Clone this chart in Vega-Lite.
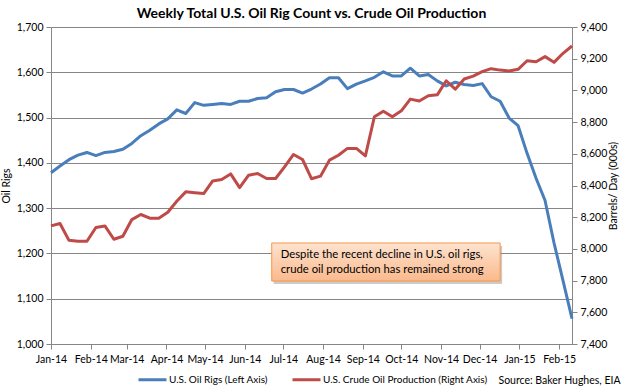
{
  "$schema": "https://vega.github.io/schema/vega-lite/v6.json",
  "width": 521,
  "height": 317,
  "autosize": {"type": "none"},
  "padding": {"left": 51, "top": 27, "right": 56, "bottom": 43},
  "background": "white",
  "title": {"text": "Weekly Total U.S. Oil Rig Count vs. Crude Oil Production", "font": "Lato", "fontSize": 14, "fontWeight": "bold", "color": "#000000", "anchor": "middle", "offset": 1},
  "config": {
    "font": "Lato",
    "view": {"stroke": null},
    "axis": {"labelFont": "Lato", "labelFontSize": 10.5, "labelColor": "#000000", "titleFont": "Lato", "titleFontSize": 10.5, "titleFontWeight": "normal", "titleColor": "#000000", "domainColor": "#868686", "tickColor": "#868686", "tickSize": 5, "labelPadding": 3},
    "axisX": {"labelExpr": "utcFormat(datum.value, '%b-%y')", "labelFlush": false, "labelOverlap": false, "grid": false, "labelPadding": 5}
  },
  "data": {"values": [
    {"date": "2014-01-03", "rigs": 1378, "production": 8145},
    {"date": "2014-01-10", "rigs": 1393, "production": 8160},
    {"date": "2014-01-17", "rigs": 1407, "production": 8054},
    {"date": "2014-01-24", "rigs": 1417, "production": 8048},
    {"date": "2014-01-31", "rigs": 1423, "production": 8048},
    {"date": "2014-02-07", "rigs": 1416, "production": 8135},
    {"date": "2014-02-14", "rigs": 1423, "production": 8145},
    {"date": "2014-02-21", "rigs": 1425, "production": 8061},
    {"date": "2014-02-28", "rigs": 1430, "production": 8080},
    {"date": "2014-03-07", "rigs": 1443, "production": 8185},
    {"date": "2014-03-14", "rigs": 1460, "production": 8217},
    {"date": "2014-03-21", "rigs": 1472, "production": 8194},
    {"date": "2014-03-28", "rigs": 1486, "production": 8194},
    {"date": "2014-04-04", "rigs": 1497, "production": 8231},
    {"date": "2014-04-11", "rigs": 1517, "production": 8301},
    {"date": "2014-04-18", "rigs": 1509, "production": 8360},
    {"date": "2014-04-25", "rigs": 1533, "production": 8355},
    {"date": "2014-05-02", "rigs": 1527, "production": 8349},
    {"date": "2014-05-09", "rigs": 1529, "production": 8429},
    {"date": "2014-05-16", "rigs": 1531, "production": 8438},
    {"date": "2014-05-23", "rigs": 1529, "production": 8473},
    {"date": "2014-05-30", "rigs": 1536, "production": 8387},
    {"date": "2014-06-06", "rigs": 1536, "production": 8465},
    {"date": "2014-06-13", "rigs": 1542, "production": 8476},
    {"date": "2014-06-20", "rigs": 1544, "production": 8444},
    {"date": "2014-06-27", "rigs": 1557, "production": 8444},
    {"date": "2014-07-04", "rigs": 1562, "production": 8518},
    {"date": "2014-07-11", "rigs": 1562, "production": 8596},
    {"date": "2014-07-18", "rigs": 1554, "production": 8564},
    {"date": "2014-07-25", "rigs": 1563, "production": 8443},
    {"date": "2014-08-01", "rigs": 1574, "production": 8459},
    {"date": "2014-08-08", "rigs": 1588, "production": 8560},
    {"date": "2014-08-15", "rigs": 1588, "production": 8591},
    {"date": "2014-08-22", "rigs": 1564, "production": 8634},
    {"date": "2014-08-29", "rigs": 1574, "production": 8634},
    {"date": "2014-09-05", "rigs": 1581, "production": 8587},
    {"date": "2014-09-12", "rigs": 1589, "production": 8834},
    {"date": "2014-09-19", "rigs": 1601, "production": 8869},
    {"date": "2014-09-26", "rigs": 1592, "production": 8834},
    {"date": "2014-10-03", "rigs": 1592, "production": 8871},
    {"date": "2014-10-10", "rigs": 1609, "production": 8945},
    {"date": "2014-10-17", "rigs": 1592, "production": 8933},
    {"date": "2014-10-24", "rigs": 1595, "production": 8966},
    {"date": "2014-10-31", "rigs": 1581, "production": 8972},
    {"date": "2014-11-07", "rigs": 1570, "production": 9061},
    {"date": "2014-11-14", "rigs": 1578, "production": 9008},
    {"date": "2014-11-21", "rigs": 1573, "production": 9072},
    {"date": "2014-11-28", "rigs": 1571, "production": 9090},
    {"date": "2014-12-05", "rigs": 1575, "production": 9118},
    {"date": "2014-12-12", "rigs": 1546, "production": 9137},
    {"date": "2014-12-19", "rigs": 1536, "production": 9128},
    {"date": "2014-12-26", "rigs": 1499, "production": 9122},
    {"date": "2015-01-02", "rigs": 1482, "production": 9133},
    {"date": "2015-01-09", "rigs": 1421, "production": 9187},
    {"date": "2015-01-16", "rigs": 1366, "production": 9181},
    {"date": "2015-01-23", "rigs": 1317, "production": 9213},
    {"date": "2015-01-30", "rigs": 1223, "production": 9177},
    {"date": "2015-02-06", "rigs": 1140, "production": 9234},
    {"date": "2015-02-13", "rigs": 1056, "production": 9280}
  ]},
  "layer": [
    {
      "mark": {"type": "line", "strokeWidth": 3, "strokeJoin": "round"},
      "encoding": {
        "x": {"field": "date", "type": "temporal",
          "scale": {"type": "utc", "domain": [{"year": 2014, "month": 1, "date": 3, "utc": true}, {"year": 2015, "month": 2, "date": 13, "utc": true}]},
          "axis": {
            "values": [{"year": 2014, "month": 1, "date": 3, "utc": true}, {"year": 2014, "month": 2, "date": 3, "utc": true}, {"year": 2014, "month": 3, "date": 3, "utc": true}, {"year": 2014, "month": 4, "date": 3, "utc": true}, {"year": 2014, "month": 5, "date": 3, "utc": true}, {"year": 2014, "month": 6, "date": 3, "utc": true}, {"year": 2014, "month": 7, "date": 3, "utc": true}, {"year": 2014, "month": 8, "date": 3, "utc": true}, {"year": 2014, "month": 9, "date": 3, "utc": true}, {"year": 2014, "month": 10, "date": 3, "utc": true}, {"year": 2014, "month": 11, "date": 3, "utc": true}, {"year": 2014, "month": 12, "date": 3, "utc": true}, {"year": 2015, "month": 1, "date": 3, "utc": true}, {"year": 2015, "month": 2, "date": 3, "utc": true}],
            "title": "Source: Baker Hughes, EIA", "titleX": 569, "titleY": 36, "titleAlign": "right", "titleBaseline": "middle"}},
        "y": {"field": "rigs", "type": "quantitative",
          "scale": {"domain": [1000, 1700], "nice": false, "zero": false},
          "axis": {"orient": "left", "title": "Oil Rigs", "format": ",.0f", "values": [1000, 1100, 1200, 1300, 1400, 1500, 1600, 1700], "grid": true, "gridColor": "#868686", "gridWidth": 1, "titlePadding": 5}},
        "color": {"datum": "U.S. Oil Rigs (Left Axis)", "type": "nominal",
          "scale": {"domain": ["U.S. Oil Rigs (Left Axis)", "U.S. Crude Oil Production (Right Axis)"], "range": ["#4a7ebb", "#be4b48"]},
          "legend": {"orient": "none", "legendX": 86, "legendY": 337, "direction": "horizontal", "title": null, "symbolType": "stroke", "symbolSize": 784, "symbolStrokeWidth": 3, "labelFont": "Lato", "labelFontSize": 10, "labelColor": "#000000", "labelOffset": 1, "labelLimit": 400, "columnPadding": 18}}
      }
    },
    {
      "mark": {"type": "line", "strokeWidth": 3, "strokeJoin": "round"},
      "encoding": {
        "x": {"field": "date", "type": "temporal"},
        "y": {"field": "production", "type": "quantitative",
          "scale": {"domain": [7400, 9400], "nice": false, "zero": false},
          "axis": {"orient": "right", "title": "Barrels/ Day (000s)", "titleAngle": 270, "format": ",.0f", "values": [7400, 7600, 7800, 8000, 8200, 8400, 8600, 8800, 9000, 9200, 9400], "grid": false, "titlePadding": 12}},
        "color": {"datum": "U.S. Crude Oil Production (Right Axis)", "type": "nominal"}
      }
    },
    {
      "data": {"values": [{}]},
      "mark": {"type": "rect", "fill": "#7f7f7f", "opacity": 0.4, "xOffset": 2, "yOffset": 3, "x2Offset": 2, "y2Offset": 3},
      "encoding": {
        "x": {"datum": {"year": 2014, "month": 6, "date": 24, "utc": true}, "type": "temporal"},
        "x2": {"datum": {"year": 2014, "month": 12, "date": 19, "utc": true}},
        "y": {"datum": 1223, "type": "quantitative", "scale": {"domain": [1000, 1700], "nice": false, "zero": false}, "axis": null},
        "y2": {"datum": 1139}
      }
    },
    {
      "data": {"values": [{}]},
      "mark": {"type": "rect", "stroke": "#f79646", "strokeWidth": 1,
        "fill": {"gradient": "linear", "x1": 0, "y1": 0, "x2": 0, "y2": 1, "stops": [{"offset": 0, "color": "#fde3cf"}, {"offset": 1, "color": "#fbb98c"}]}},
      "encoding": {
        "x": {"datum": {"year": 2014, "month": 6, "date": 24, "utc": true}, "type": "temporal"},
        "x2": {"datum": {"year": 2014, "month": 12, "date": 19, "utc": true}},
        "y": {"datum": 1223, "type": "quantitative", "scale": {"domain": [1000, 1700], "nice": false, "zero": false}, "axis": null},
        "y2": {"datum": 1139}
      }
    },
    {
      "data": {"values": [{}]},
      "mark": {"type": "text", "align": "left", "baseline": "middle", "font": "Lato", "fontSize": 11.3, "fontWeight": "normal", "fill": "#000000"},
      "encoding": {
        "x": {"datum": {"year": 2014, "month": 7, "date": 1, "utc": true}, "type": "temporal"},
        "y": {"datum": 1197, "type": "quantitative", "scale": {"domain": [1000, 1700], "nice": false, "zero": false}, "axis": null},
        "text": {"value": "Despite the recent decline in U.S. oil rigs,"}
      }
    },
    {
      "data": {"values": [{}]},
      "mark": {"type": "text", "align": "left", "baseline": "middle", "font": "Lato", "fontSize": 11.3, "fontWeight": "normal", "fill": "#000000"},
      "encoding": {
        "x": {"datum": {"year": 2014, "month": 7, "date": 1, "utc": true}, "type": "temporal"},
        "y": {"datum": 1163, "type": "quantitative", "scale": {"domain": [1000, 1700], "nice": false, "zero": false}, "axis": null},
        "text": {"value": "crude oil production  has remained strong"}
      }
    }
  ],
  "resolve": {"scale": {"y": "independent"}}
}
